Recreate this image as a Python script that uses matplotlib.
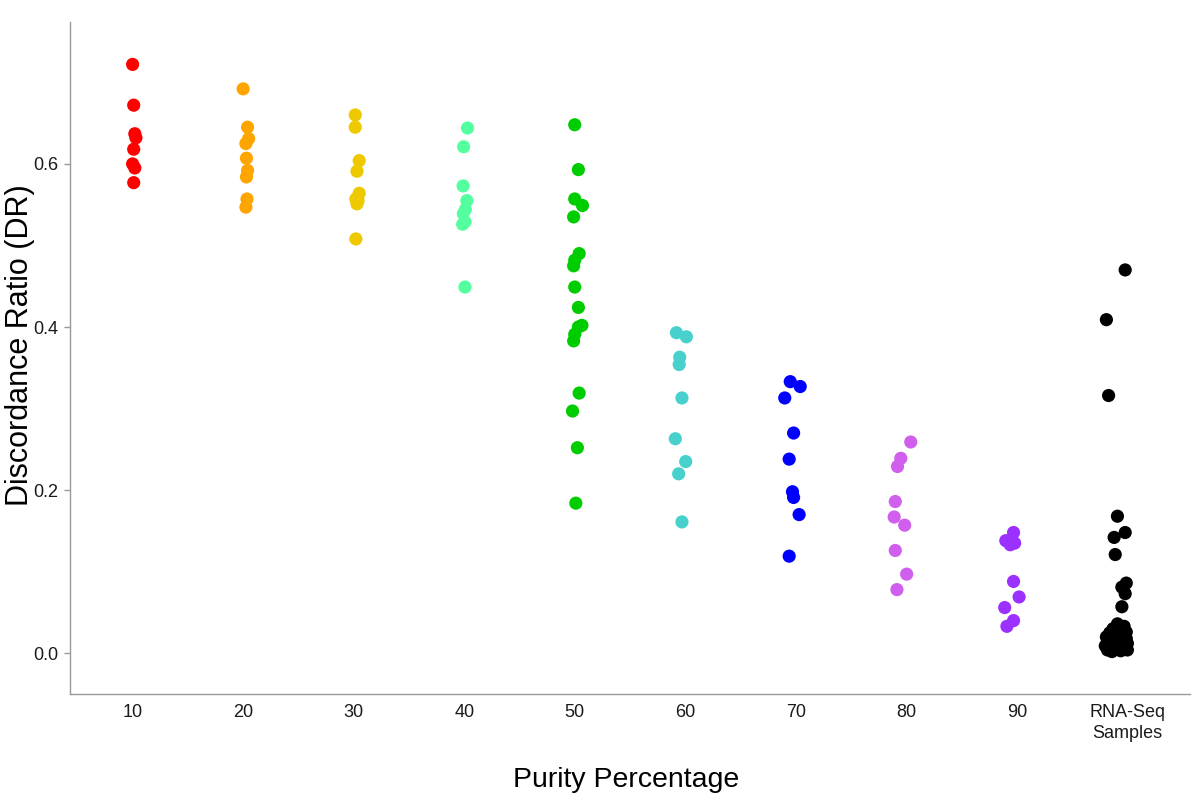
"""Discordance ratio by purity percentage (jittered dot plot)."""
import matplotlib
matplotlib.use("Agg")
import matplotlib.pyplot as plt

plt.rcParams["font.family"] = ["Liberation Sans", "DejaVu Sans"]

categories = ["10", "20", "30", "40", "50", "60", "70", "80", "90", "RNA-Seq\nSamples"]
colors = ["#FF0000", "#FFA500", "#EEC900", "#54FF9F", "#00CD00",
          "#48D1CC", "#0000FF", "#D15FEE", "#9B30FF", "#000000"]

# DR values per group
dr_10 = [0.722, 0.672, 0.637, 0.632, 0.618, 0.600, 0.595, 0.577]
dr_20 = [0.692, 0.645, 0.631, 0.625, 0.607, 0.592, 0.584, 0.557, 0.547]
dr_30 = [0.660, 0.645, 0.604, 0.591, 0.564, 0.557, 0.555, 0.551, 0.508]
dr_40 = [0.644, 0.621, 0.573, 0.555, 0.544, 0.539, 0.529, 0.526, 0.449]
dr_50 = [0.648, 0.593, 0.557, 0.549, 0.535, 0.490, 0.482, 0.475, 0.449,
         0.424, 0.402, 0.400, 0.391, 0.383, 0.319, 0.297, 0.252, 0.184]
dr_60 = [0.393, 0.388, 0.363, 0.354, 0.313, 0.263, 0.235, 0.220, 0.161]
dr_70 = [0.333, 0.327, 0.313, 0.270, 0.238, 0.198, 0.191, 0.170, 0.119]
dr_80 = [0.259, 0.239, 0.229, 0.186, 0.167, 0.157, 0.126, 0.097, 0.078]
dr_90 = [0.148, 0.138, 0.135, 0.133, 0.088, 0.069, 0.056, 0.040, 0.033]
dr_rna = [0.470, 0.409, 0.316, 0.168, 0.148, 0.142, 0.121, 0.086, 0.081, 0.073, 0.057,
          0.036, 0.033, 0.030, 0.028, 0.026, 0.025, 0.023, 0.022, 0.020, 0.019,
          0.018, 0.017, 0.015, 0.014, 0.013, 0.012, 0.011, 0.010, 0.009, 0.008,
          0.007, 0.006, 0.006, 0.005, 0.004, 0.004, 0.003, 0.002]

# horizontal jitter (in category units)
jit_10 = [0.0, 0.01, 0.02, 0.03, 0.01, 0.0, 0.02, 0.01]
jit_20 = [0.0, 0.04, 0.05, 0.025, 0.03, 0.04, 0.03, 0.035, 0.025]
jit_30 = [0.014, 0.014, 0.05, 0.03, 0.05, 0.02, 0.04, 0.03, 0.02]
jit_40 = [0.03, -0.005, -0.01, 0.024, 0.01, -0.008, 0.007, -0.014, 0.007]
jit_50 = [0.0, 0.033, 0.0, 0.07, -0.01, 0.04, 0.0, -0.01, 0.0,
          0.033, 0.065, 0.033, 0.0, -0.01, 0.04, -0.02, 0.024, 0.01]
jit_60 = [-0.08, 0.01, -0.05, -0.055, -0.03, -0.09, 0.004, -0.06, -0.03]
jit_70 = [-0.05, 0.04, -0.1, -0.02, -0.06, -0.03, -0.02, 0.03, -0.06]
jit_80 = [0.04, -0.05, -0.08, -0.1, -0.11, -0.015, -0.1, 0.003, -0.085]
jit_90 = [-0.03, -0.1, -0.02, -0.06, -0.03, 0.02, -0.11, -0.03, -0.09]
jit_rna = [-0.02, -0.19, -0.17, -0.09, -0.02, -0.12, -0.11, -0.01, -0.05, -0.02, -0.05,
           -0.09, -0.03, -0.13, -0.06, -0.01, -0.16, -0.10, -0.04, -0.19, -0.07,
           -0.01, -0.13, -0.04, -0.17, -0.09, 0.00, -0.12, -0.05, -0.20, -0.02,
           -0.15, -0.08, -0.03, -0.11, -0.18, 0.00, -0.06, -0.14]

groups = [dr_10, dr_20, dr_30, dr_40, dr_50, dr_60, dr_70, dr_80, dr_90, dr_rna]
jitters = [jit_10, jit_20, jit_30, jit_40, jit_50, jit_60, jit_70, jit_80, jit_90, jit_rna]

fig = plt.figure(figsize=(12, 8), dpi=100)
ax = fig.add_axes([0.058, 0.1325, 0.934, 0.84])

for i, (vals, jit, col) in enumerate(zip(groups, jitters, colors)):
    xs = [i + 1 + j for j in jit]
    ax.scatter(xs, vals, s=90, color=col, edgecolors="none", zorder=3)

ax.set_xlim(0.43, 10.57)
ax.set_ylim(-0.050, 0.774)
ax.set_xticks(range(1, 11))
ax.set_xticklabels(categories, fontsize=13, color="#1a1a1a", linespacing=1.3)
ax.set_yticks([0.0, 0.2, 0.4, 0.6])
ax.set_yticklabels(["0.0", "0.2", "0.4", "0.6"], fontsize=13, color="#1a1a1a")
ax.tick_params(axis="x", length=0, pad=7)
ax.tick_params(axis="y", length=4, width=1, color="#999999", pad=4)

for side in ["top", "right"]:
    ax.spines[side].set_visible(False)
for side in ["left", "bottom"]:
    ax.spines[side].set_color("#999999")
    ax.spines[side].set_linewidth(1)

# axis titles placed in figure coords so they stay inside the canvas
fig.text(0.522, 0.025, "Purity Percentage", fontsize=20.5, ha="center", va="center")
fig.text(0.017, 0.569, "Discordance Ratio (DR)", fontsize=22, rotation=90,
         ha="center", va="center")

fig.savefig("out.png", dpi=100, facecolor="white")
plt.close(fig)
